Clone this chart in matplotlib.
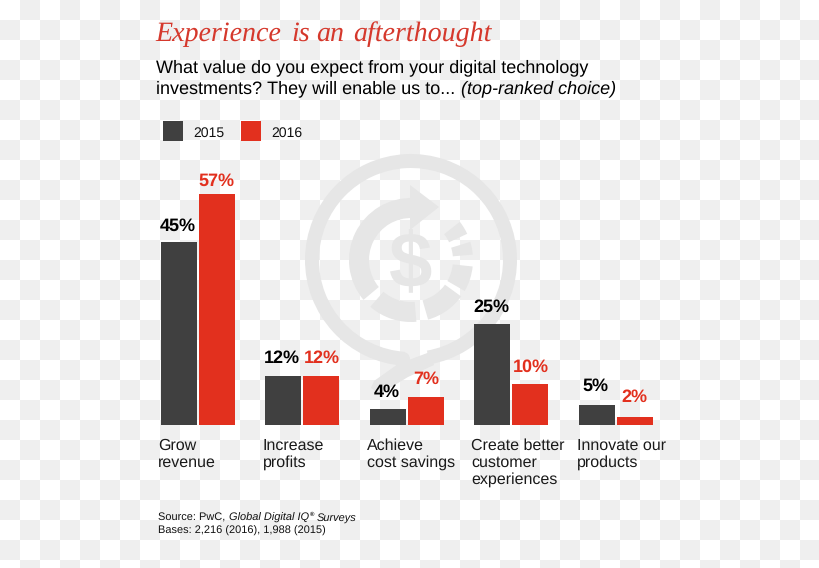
import numpy as np
import matplotlib
matplotlib.use("Agg")
import matplotlib.pyplot as plt
from matplotlib.patches import Wedge, Polygon, Circle

plt.rcParams["text.hinting"] = "no_hinting"
plt.rcParams["text.hinting_factor"] = 1

categories = ["Grow\nrevenue", "Increase\nprofits", "Achieve\ncost savings",
              "Create better\ncustomer\nexperiences", "Innovate our\nproducts"]
series_2015 = [45, 12, 4, 25, 5]
series_2016 = [57, 12, 7, 10, 2]
years = ["2015", "2016"]
gap_2015 = [19, 21, 19, 19, 21]
gap_2016 = [15, 21, 20, 20, 22]
title_words = ["Experience", "is", "an", "afterthought"]
DARK, RED, TITLE = "#404040", "#e2301e", "#d5382c"
MARK = "#e6e6e6"
W, H = 820, 568
SANS = "Liberation Sans"

fig = plt.figure(figsize=(W/100, H/100), dpi=100)
bg = fig.add_axes([0, 0, 1, 1], zorder=0)
bg.axis("off")
board = np.indices((H//20+1, W//20+1)).sum(axis=0) % 2
bg.imshow(board, cmap=matplotlib.colors.ListedColormap(["white", "#efefef"]),
          extent=(0, (W//20+1)*20, (H//20+1)*20, 0), interpolation="nearest", aspect="auto")
bg.set_xlim(0, W); bg.set_ylim(H, 0)

# watermark (y axis inverted: angles run clockwise on screen from +x)
cx, cy = 411, 260
bg.add_patch(Wedge((cx, cy), 106, 94, 440, width=14, color=MARK, lw=0))
bg.add_patch(Circle((403, 359), 7, color=MARK, lw=0))
bg.add_patch(Polygon([(430, 352), (434, 365), (408, 377), (380, 394), (371, 388), (374, 381), (398, 364)],
                     color=MARK, lw=0))
bg.add_patch(Wedge((cx, cy), 62, 140, 272, width=20, color=MARK, lw=0))
bg.add_patch(Polygon([(410, 185), (439, 207), (410, 230)], color=MARK, lw=0))
for a0, a1 in [(-38, -25), (-17, -5), (6, 30), (36, 74), (85, 131)]:
    bg.add_patch(Wedge((cx, cy), 62, a0, a1, width=20, color=MARK, lw=0))
bg.text(cx, cy+7, "$", family=SANS, weight="bold", fontsize=56, color=MARK, ha="center", va="center")

# bars
px_per_pct = 4.06
left, right, base, top = 140, 680, 425, 150
ax = fig.add_axes([left/W, 1-base/H, (right-left)/W, (base-top)/H], zorder=1)
ax.patch.set_alpha(0)
ax.axis("off")
spacing = 104.5
origin = 197.6
ax.set_xlim((left-origin)/spacing, (right-origin)/spacing)
ax.set_ylim(0, (base-top)/px_per_pct)
x = np.arange(len(categories))
bw = 36/spacing; off = 19/spacing
ax.bar(x-off, series_2015, bw, color=DARK)
ax.bar(x+off, series_2016, bw, color=RED)
for i, (a, b) in enumerate(zip(series_2015, series_2016)):
    ax.annotate(f"{a}%", (i-off, a), xytext=(-0.8, (gap_2015[i]-11)*0.72), textcoords="offset points",
                ha="center", va="bottom", family=SANS, weight="bold", fontsize=13.3, color="black")
    ax.annotate(f"{b}%", (i+off, b), xytext=(0.2, (gap_2016[i]-11)*0.72), textcoords="offset points",
                ha="center", va="bottom", family=SANS, weight="bold", fontsize=13.3, color=RED)

def T(px, py, s, **kw):
    kw.setdefault("family", SANS)
    bg.text(px, py, s, va="baseline", ha="left", zorder=5, **kw)

for px, word in zip([155.5, 291, 316, 353], title_words):
    T(px, 41, word, family="Liberation Serif", style="italic", fontsize=20.3, color=TITLE)
T(156, 72, "What value do you expect from your digital technology", fontsize=13.0, color="black")
T(156, 93, "investments? They will enable us to... ", fontsize=13.0, color="black")
T(461, 93, "(top-ranked choice)", fontsize=13.0, style="italic", color="black")

for px, c, y, tx in [(163, DARK, years[0], 193), (241, RED, years[1], 271)]:
    bg.add_patch(plt.Rectangle((px, 121), 20, 20, color=c, lw=0, zorder=5))
    T(tx, 136.5, y, fontsize=10.2, color="#111111")

for px, lab in zip([158, 263, 367, 471, 577], categories):
    for j, line in enumerate(lab.split("\n")):
        T(px, 450+17*j, line, fontsize=11.5, color="#1a1a1a")

T(158, 521, "Source: PwC, ", fontsize=8, color="#111111")
T(229, 521, "Global Digital IQ", fontsize=8, style="italic", color="#111111")
T(310, 516, "®", fontsize=4.5, weight="bold", color="#111111")
T(317, 521, "Surveys", fontsize=8, style="italic", color="#111111")
T(158, 534, "Bases: 2,216 (2016), 1,988 (2015)", fontsize=8, color="#111111")

fig.savefig("out.png", dpi=100)
